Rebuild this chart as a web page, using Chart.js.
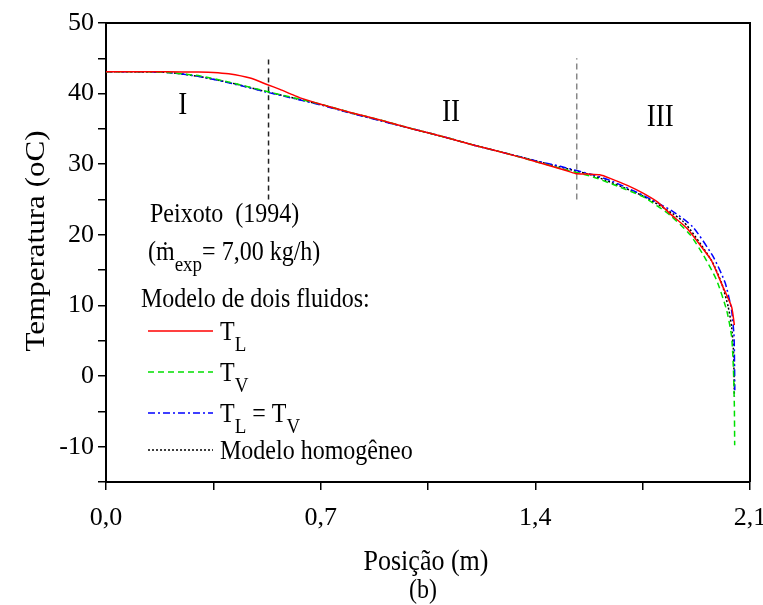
<!doctype html>
<html lang="pt">
<head>
<meta charset="UTF-8">
<title>Temperatura x Posição</title>
<style>
  html, body { margin: 0; padding: 0; background: #fff; }
</style>
</head>
<body>
<canvas id="chart" width="763" height="605"></canvas>

<script src="https://cdn.jsdelivr.net/npm/chart.js@4/dist/chart.umd.min.js"></script>
<script>
// modelo de dois fluidos: T liquido
const posTL  = [0, 0.1, 0.2, 0.3, 0.35, 0.4, 0.47, 0.525, 0.567, 0.6, 0.633, 0.7, 0.8, 0.9, 1.0, 1.1, 1.2, 1.3, 1.4, 1.5, 1.53, 1.57, 1.61, 1.644, 1.7, 1.751, 1.8, 1.839, 1.895, 1.947, 1.975, 2.012, 2.04, 2.049];
const tempTL = [43.1, 43.1, 43.1, 43.05, 43.0, 42.8, 42.2, 41.3, 40.6, 40.0, 39.4, 38.5, 37.3, 36.2, 35.0, 33.9, 32.7, 31.6, 30.4, 29.1, 28.7, 28.6, 28.5, 28.0, 27.0, 25.9, 24.6, 23.0, 20.9, 18.0, 16.3, 12.6, 9.8, 7.2];

// T vapor
const posTV  = [0, 0.1, 0.2, 0.307, 0.414, 0.525, 0.623, 0.7, 0.8, 0.9, 1.0, 1.1, 1.2, 1.3, 1.4, 1.5, 1.588, 1.65, 1.751, 1.839, 1.905, 1.947, 1.991, 2.024, 2.04, 2.046, 2.049, 2.05];
const tempTV = [43.1, 43.1, 43.0, 42.5, 41.5, 40.3, 39.3, 38.5, 37.3, 36.2, 35.0, 33.9, 32.7, 31.6, 30.4, 29.2, 28.2, 27.2, 25.4, 22.8, 20.0, 17.2, 13.6, 9.3, 5.6, 0.9, -4.3, -9.8];

// TL = TV
const posEq  = [0, 0.1, 0.2, 0.307, 0.414, 0.525, 0.623, 0.7, 0.8, 0.9, 1.0, 1.1, 1.2, 1.3, 1.4, 1.481, 1.588, 1.65, 1.751, 1.849, 1.914, 1.98, 2.019, 2.04, 2.048, 2.0495, 2.0505];
const tempEq = [43.1, 43.1, 43.0, 42.4, 41.4, 40.2, 39.2, 38.4, 37.2, 36.1, 35.0, 33.9, 32.7, 31.6, 30.5, 29.7, 28.5, 27.6, 25.6, 23.3, 21.1, 16.9, 13.2, 9.3, 5.6, 1.8, -2.0];

// modelo homogeneo
const posHom  = [0, 0.2, 0.307, 0.414, 0.525, 0.623, 0.7, 0.8, 0.9, 1.0, 1.1, 1.2, 1.3, 1.4, 1.481, 1.588, 1.751, 1.882, 1.974, 2.008, 2.029, 2.04, 2.046, 2.048, 2.049];
const tempHom = [43.1, 43.0, 42.4, 41.45, 40.25, 39.25, 38.45, 37.25, 36.15, 35.0, 33.9, 32.7, 31.6, 30.5, 29.6, 28.4, 25.5, 21.9, 16.4, 13.1, 9.8, 7.0, 3.7, -0.1, -2.9];

// limites das regioes I, II, III
const limitPos = [0.53, 1.535];
const limitTemp = [25, 45];
const zoneNames = ['I', 'II', 'III'];
const zonePos = [0.25, 1.125, 1.807];
const zoneTemp = [38.2, 37.3, 36.5];

const xTickValues = [0, 0.7, 1.4, 2.1];
const xTickLabels = ['0,0', '0,7', '1,4', '2,1'];
const yTickValues = [-10, 0, 10, 20, 30, 40, 50];
const yTickLabels = ['-10', '0', '10', '20', '30', '40', '50'];

const serif = "'Liberation Serif', 'Times New Roman', serif";
const stretch = 1.15;
const pts = (xs, ys) => xs.map((v, i) => ({ x: v, y: ys[i] }));

function tickLabel(values, labels) {
    return function (v) {
        const i = values.findIndex(t => Math.abs(t - v) < 1e-6);
        return i >= 0 ? labels[i] : '';
    };
}

// texto esticado na vertical, com subscritos: partes [texto, subscrito?]
function rich(ctx, x, y, parts, size) {
    ctx.save();
    ctx.translate(x, y);
    ctx.scale(1, stretch);
    let cx = 0;
    parts.forEach(([txt, sub]) => {
        ctx.font = (sub ? Math.round(size * 0.8) : size) + 'px ' + serif;
        ctx.fillText(txt, cx, sub ? size * 0.4 : 0);
        cx += ctx.measureText(txt).width;
    });
    ctx.restore();
}

const legendRows = [
    { color: '#ff0000', dash: [], parts: [['T'], ['L', 1]] },
    { color: '#00e000', dash: [6, 4], parts: [['T'], ['V', 1]] },
    { color: '#0000ff', dash: [7, 3, 2, 3], parts: [['T'], ['L', 1], [' = T'], ['V', 1]] },
    { color: '#000000', dash: [2, 2], parts: [['Modelo homogêneo']] }
];
const legendY = [331, 372, 413, 450];

const overlay = {
    id: 'overlay',
    afterDraw(chart) {
        const { ctx, chartArea: a, scales: { x, y } } = chart;
        ctx.save();
        ctx.strokeStyle = '#000';
        ctx.lineWidth = 2;
        ctx.beginPath();
        ctx.moveTo(a.left, a.top);
        ctx.lineTo(a.right, a.top);
        ctx.lineTo(a.right, a.bottom);
        ctx.stroke();

        ctx.fillStyle = '#000';
        ctx.textBaseline = 'middle';
        ctx.textAlign = 'center';
        zoneNames.forEach((n, i) =>
            rich(ctx, x.getPixelForValue(zonePos[i]), y.getPixelForValue(zoneTemp[i]), [[n]], 27));

        // titulos dos eixos
        rich(ctx, 426, 562, [['Posição (m)']], 26);
        rich(ctx, 423, 591, [['(b)']], 24);
        ctx.save();
        ctx.translate(37, 241);
        ctx.rotate(-Math.PI / 2);
        ctx.scale(stretch, 1);
        ctx.font = '27px ' + serif;
        ctx.fillText('Temperatura (oC)', 0, 0);
        ctx.restore();

        // anotacoes
        ctx.textAlign = 'left';
        ctx.textBaseline = 'alphabetic';
        rich(ctx, 150, 222, [['Peixoto  (1994)']], 24);
        rich(ctx, 148, 260, [['(ṁ'], ['exp', 1], ['= 7,00 kg/h)']], 24);
        rich(ctx, 141, 307, [['Modelo de dois fluidos:']], 24);

        legendRows.forEach((r, i) => {
            const ly = legendY[i];
            ctx.strokeStyle = r.color;
            ctx.lineWidth = 1.3;
            ctx.setLineDash(r.dash);
            ctx.beginPath();
            ctx.moveTo(148, ly);
            ctx.lineTo(213, ly);
            ctx.stroke();
            ctx.setLineDash([]);
            ctx.fillStyle = '#000';
            rich(ctx, 220, ly + 9, r.parts, 24);
        });
        ctx.restore();
    }
};

const line = (label, data, color, dash, order) => ({
    label, data, borderColor: color, borderDash: dash, borderWidth: 1.5,
    showLine: true, pointRadius: 0, fill: false, tension: 0.2, order
});

new Chart(document.getElementById('chart'), {
    type: 'scatter',
    data: {
        datasets: [
            line('TL', pts(posTL, tempTL), '#ff0000', [], 1),
            line('TV', pts(posTV, tempTV), '#00e000', [6, 4], 2),
            line('TL = TV', pts(posEq, tempEq), '#0000ff', [7, 3, 2, 3], 3),
            line('Modelo homogêneo', pts(posHom, tempHom), '#000000', [2, 2], 4),
            line('limite 1', pts([limitPos[0], limitPos[0]], limitTemp), '#222222', [5, 4], 5),
            line('limite 2', pts([limitPos[1], limitPos[1]], limitTemp), '#888888', [6, 4], 5)
        ]
    },
    plugins: [overlay],
    options: {
        responsive: false,
        animation: false,
        layout: { padding: { top: 23, right: 13, left: 0, bottom: 0 } },
        plugins: { legend: { display: false }, tooltip: { enabled: false } },
        scales: {
            x: {
                type: 'linear', min: 0, max: 2.1,
                afterFit: s => { s.height = 123; s.paddingLeft = 0; s.paddingRight = 0; },
                border: { color: '#000', width: 2 },
                grid: { drawOnChartArea: false, color: '#000', tickLength: 8, lineWidth: 1.5 },
                ticks: {
                    stepSize: 0.35, autoSkip: false, maxRotation: 0, padding: 13, color: '#000',
                    font: { family: serif, size: 26 },
                    callback: tickLabel(xTickValues, xTickLabels)
                }
            },
            y: {
                min: -15, max: 50,
                afterFit: s => { s.width = 106; s.paddingTop = 0; s.paddingBottom = 0; },
                border: { color: '#000', width: 2 },
                grid: { drawOnChartArea: false, color: '#000', tickLength: 8, lineWidth: 1.5 },
                ticks: {
                    stepSize: 5, autoSkip: false, padding: 4, color: '#000',
                    font: { family: serif, size: 26 },
                    callback: tickLabel(yTickValues, yTickLabels)
                }
            }
        }
    }
});
</script>
</body>
</html>
